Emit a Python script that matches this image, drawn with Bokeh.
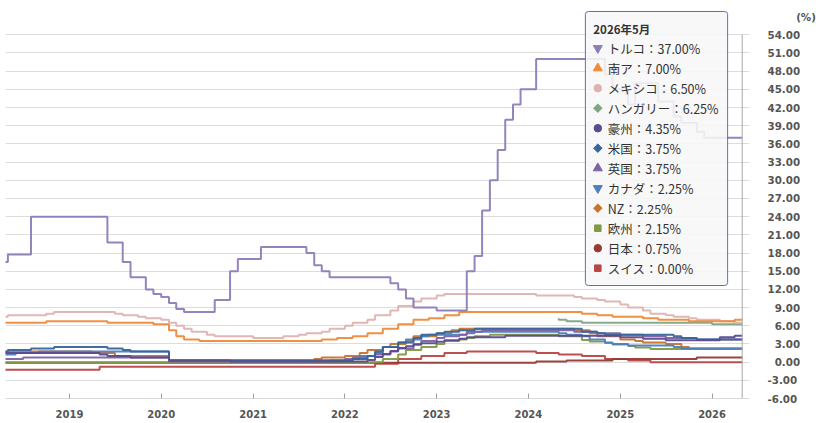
import datetime as dt
import math
from bokeh.plotting import figure
from bokeh.models import (Range1d, FixedTicker, DatetimeTickFormatter, BoxAnnotation,
                          ColumnDataSource)
from bokeh.core.properties import value
from bokeh.embed import file_html
from bokeh.resources import INLINE

# ---------------- data (policy rates, month-end, %) ----------------
first_month = "2018-04"
last_month = "2026-05"

names = ["トルコ", "南ア", "メキシコ", "ハンガリー", "豪州", "米国", "英国",
         "カナダ", "NZ", "欧州", "日本", "スイス"]
colors = ["#8e7db8", "#ee8a3a", "#ddb3b1", "#7fa583", "#5b4a8c", "#37659c",
          "#7d62a6", "#4c7fc0", "#c8742e", "#7f9a45", "#963a35", "#b84646"]
markers = ["inverted_triangle", "triangle", "circle", "diamond", "circle", "diamond",
           "triangle", "inverted_triangle", "diamond", "square", "circle", "square"]

turkey = [("2018-04", 13.5), ("2018-05", 16.5), ("2018-06", 17.75), ("2018-09", 24.0),
          ("2019-07", 19.75), ("2019-09", 16.5), ("2019-10", 14.0), ("2019-12", 12.0),
          ("2020-01", 11.25), ("2020-02", 10.75), ("2020-03", 9.75), ("2020-04", 8.75),
          ("2020-05", 8.25), ("2020-09", 10.25), ("2020-11", 15.0), ("2020-12", 17.0),
          ("2021-03", 19.0), ("2021-09", 18.0), ("2021-10", 16.0), ("2021-11", 15.0),
          ("2021-12", 14.0), ("2022-08", 13.0), ("2022-09", 12.0), ("2022-10", 10.5),
          ("2022-11", 9.0), ("2023-02", 8.5), ("2023-06", 15.0), ("2023-07", 17.5),
          ("2023-08", 25.0), ("2023-09", 30.0), ("2023-10", 35.0), ("2023-11", 40.0),
          ("2023-12", 42.5), ("2024-01", 45.0), ("2024-03", 50.0), ("2024-12", 47.5),
          ("2025-01", 45.0), ("2025-03", 42.5), ("2025-04", 46.0), ("2025-07", 43.0),
          ("2025-09", 40.5), ("2025-10", 39.5), ("2025-12", 38.0), ("2026-01", 37.0)]
south_africa = [("2018-04", 6.5), ("2018-11", 6.75), ("2019-07", 6.5), ("2020-01", 6.25),
                ("2020-03", 5.25), ("2020-04", 4.25), ("2020-05", 3.75), ("2020-07", 3.5),
                ("2021-11", 3.75), ("2022-01", 4.0), ("2022-03", 4.25), ("2022-05", 4.75),
                ("2022-07", 5.5), ("2022-09", 6.25), ("2022-11", 7.0), ("2023-01", 7.25),
                ("2023-03", 7.75), ("2023-05", 8.25), ("2024-09", 8.0), ("2024-11", 7.75),
                ("2025-01", 7.5), ("2025-05", 7.25), ("2025-07", 7.0), ("2025-11", 6.75),
                ("2026-05", 7.0)]
mexico = [("2018-04", 7.5), ("2018-06", 7.75), ("2018-11", 8.0), ("2018-12", 8.25),
          ("2019-08", 8.0), ("2019-09", 7.75), ("2019-11", 7.5), ("2019-12", 7.25),
          ("2020-02", 7.0), ("2020-03", 6.5), ("2020-04", 6.0), ("2020-05", 5.5),
          ("2020-06", 5.0), ("2020-08", 4.5), ("2020-09", 4.25), ("2021-02", 4.0),
          ("2021-06", 4.25), ("2021-08", 4.5), ("2021-09", 4.75), ("2021-11", 5.0),
          ("2021-12", 5.5), ("2022-02", 6.0), ("2022-03", 6.5), ("2022-05", 7.0),
          ("2022-06", 7.75), ("2022-08", 8.5), ("2022-09", 9.25), ("2022-11", 10.0),
          ("2022-12", 10.5), ("2023-02", 11.0), ("2023-03", 11.25), ("2024-03", 11.0),
          ("2024-08", 10.75), ("2024-09", 10.5), ("2024-11", 10.25), ("2024-12", 10.0),
          ("2025-02", 9.5), ("2025-03", 9.0), ("2025-05", 8.5), ("2025-06", 8.0),
          ("2025-08", 7.75), ("2025-09", 7.5), ("2025-11", 7.25), ("2025-12", 7.0),
          ("2026-03", 6.75), ("2026-05", 6.5)]
hungary = [("2024-05", 7.25), ("2024-06", 7.0), ("2024-07", 6.75), ("2024-09", 6.5),
           ("2026-02", 6.25)]
australia = [("2018-04", 1.5), ("2019-06", 1.25), ("2019-07", 1.0), ("2019-10", 0.75),
             ("2020-03", 0.25), ("2020-11", 0.1), ("2022-05", 0.35), ("2022-06", 0.85),
             ("2022-07", 1.35), ("2022-08", 1.85), ("2022-09", 2.35), ("2022-10", 2.6),
             ("2022-11", 2.85), ("2022-12", 3.1), ("2023-02", 3.35), ("2023-03", 3.6),
             ("2023-05", 3.85), ("2023-06", 4.1), ("2023-11", 4.35), ("2025-02", 4.1),
             ("2025-05", 3.85), ("2025-08", 3.6), ("2026-03", 4.1), ("2026-05", 4.35)]
usa = [("2018-04", 1.75), ("2018-06", 2.0), ("2018-09", 2.25), ("2018-12", 2.5),
       ("2019-07", 2.25), ("2019-09", 2.0), ("2019-10", 1.75), ("2020-03", 0.25),
       ("2022-03", 0.5), ("2022-05", 1.0), ("2022-06", 1.75), ("2022-07", 2.5),
       ("2022-09", 3.25), ("2022-11", 4.0), ("2022-12", 4.5), ("2023-02", 4.75),
       ("2023-03", 5.0), ("2023-05", 5.25), ("2023-07", 5.5), ("2024-09", 5.0),
       ("2024-11", 4.75), ("2024-12", 4.5), ("2025-09", 4.25), ("2025-10", 4.0),
       ("2025-12", 3.75)]
uk = [("2018-04", 0.5), ("2018-08", 0.75), ("2020-03", 0.1), ("2021-12", 0.25),
      ("2022-02", 0.5), ("2022-03", 0.75), ("2022-05", 1.0), ("2022-06", 1.25),
      ("2022-08", 1.75), ("2022-09", 2.25), ("2022-11", 3.0), ("2022-12", 3.5),
      ("2023-02", 4.0), ("2023-03", 4.25), ("2023-05", 4.5), ("2023-06", 5.0),
      ("2023-08", 5.25), ("2024-08", 5.0), ("2024-11", 4.75), ("2025-02", 4.5),
      ("2025-05", 4.25), ("2025-08", 4.0), ("2025-12", 3.75)]
canada = [("2018-04", 1.25), ("2018-07", 1.5), ("2018-10", 1.75), ("2020-03", 0.25),
          ("2022-03", 0.5), ("2022-04", 1.0), ("2022-06", 1.5), ("2022-07", 2.5),
          ("2022-09", 3.25), ("2022-10", 3.75), ("2022-12", 4.25), ("2023-01", 4.5),
          ("2023-06", 4.75), ("2023-07", 5.0), ("2024-06", 4.75), ("2024-07", 4.5),
          ("2024-09", 4.25), ("2024-10", 3.75), ("2024-12", 3.25), ("2025-01", 3.0),
          ("2025-03", 2.75), ("2025-09", 2.5), ("2025-10", 2.25)]
nz = [("2018-04", 1.75), ("2019-05", 1.5), ("2019-08", 1.0), ("2020-03", 0.25),
      ("2021-10", 0.5), ("2021-11", 0.75), ("2022-02", 1.0), ("2022-04", 1.5),
      ("2022-05", 2.0), ("2022-07", 2.5), ("2022-08", 3.0), ("2022-10", 3.5),
      ("2022-11", 4.25), ("2023-02", 4.75), ("2023-04", 5.25), ("2023-05", 5.5),
      ("2024-08", 5.25), ("2024-10", 4.75), ("2024-11", 4.25), ("2025-02", 3.75),
      ("2025-04", 3.5), ("2025-05", 3.25), ("2025-08", 3.0), ("2025-10", 2.5),
      ("2025-11", 2.25)]
euro = [("2018-04", 0.0), ("2022-07", 0.5), ("2022-09", 1.25), ("2022-10", 2.0),
        ("2022-12", 2.5), ("2023-02", 3.0), ("2023-03", 3.5), ("2023-05", 3.75),
        ("2023-06", 4.0), ("2023-07", 4.25), ("2023-09", 4.5), ("2024-06", 4.25),
        ("2024-09", 3.65), ("2024-10", 3.4), ("2024-12", 3.15), ("2025-01", 2.9),
        ("2025-03", 2.65), ("2025-04", 2.4), ("2025-06", 2.15)]
japan = [("2018-04", -0.1), ("2024-03", 0.1), ("2024-07", 0.25), ("2025-01", 0.5),
         ("2025-12", 0.75)]
swiss = [("2018-04", -1.25), ("2019-06", -0.75), ("2022-06", -0.25), ("2022-09", 0.5),
         ("2022-12", 1.0), ("2023-03", 1.5), ("2023-06", 1.75), ("2024-03", 1.5),
         ("2024-06", 1.25), ("2024-09", 1.0), ("2024-12", 0.5), ("2025-03", 0.25),
         ("2025-06", 0.0)]

series_changes = [turkey, south_africa, mexico, hungary, australia, usa, uk,
                  canada, nz, euro, japan, swiss]

y_ticks = list(range(-6, 55, 3))
unit_tick = 57          # position of the "(%)" unit caption on the value axis
unit_text = "(%)"
year_ticks = list(range(2019, 2027))

# ---------------- helpers ----------------
def month_list(a, b):
    ya, ma = map(int, a.split("-"))
    yb, mb = map(int, b.split("-"))
    out = []
    y, m = ya, ma
    while (y, m) <= (yb, mb):
        out.append(f"{y}-{m:02d}")
        m += 1
        if m > 12:
            y, m = y + 1, 1
    return out

months = month_list(first_month, last_month)
month_dates = [dt.datetime(int(s[:4]), int(s[5:]), 1) for s in months]

def monthly(changes):
    d = dict(changes)
    cur, out = None, []
    for mth in months:
        if mth in d:
            cur = d[mth]
        out.append(cur)
    return out

def ms(d):
    return (d - dt.datetime(1970, 1, 1)).total_seconds() * 1000.0

# ---------------- geometry (canvas starts at page 0,0) ----------------
W, H = 818, 422
F_LEFT, F_RIGHT, F_TOP, F_BOTTOM = 5, 753, 10, 398
x_start = dt.datetime(2018, 4, 21, 12)
x_end = dt.datetime(2026, 5, 30)
Y0, Y1 = -6, 58

def page_x(X):
    return ms(x_start) + (X - F_LEFT) * (ms(x_end) - ms(x_start)) / (F_RIGHT - F_LEFT)

def page_y(Y):
    return Y1 - (Y - F_TOP) * (Y1 - Y0) / (F_BOTTOM - F_TOP)

p = figure(width=W, height=H, x_axis_type="datetime", y_axis_location="right",
           output_backend="svg", toolbar_location=None,
           x_range=Range1d(x_start, x_end), y_range=Range1d(Y0, Y1))
p.min_border_left = F_LEFT
p.min_border_right = W - F_RIGHT
p.min_border_top = F_TOP
p.min_border_bottom = H - F_BOTTOM
p.outline_line_color = None
p.background_fill_color = "white"
p.border_fill_color = "white"

# value axis (right)
p.yaxis.ticker = FixedTicker(ticks=y_ticks + [unit_tick])
overrides = {t: f"{t:.2f}".rjust(5, "\u2007") for t in y_ticks}
overrides[unit_tick] = "\u2007\u2007\u2007\u2007" + unit_text
p.yaxis.major_label_overrides = overrides
p.yaxis.axis_line_color = None
p.yaxis.major_tick_line_color = None
p.yaxis.major_tick_in = 0
p.yaxis.major_tick_out = 0
p.yaxis.minor_tick_line_color = None
p.yaxis.minor_tick_in = 0
p.yaxis.minor_tick_out = 0
p.yaxis.major_label_standoff = 18
p.yaxis.major_label_text_font = "DejaVu Sans"
p.yaxis.major_label_text_font_style = "bold"
p.yaxis.major_label_text_font_size = "10.3px"
p.yaxis.major_label_text_color = "#555555"

# time axis
p.xaxis.ticker = FixedTicker(ticks=[ms(dt.datetime(y, 1, 1)) for y in year_ticks])
p.xaxis.formatter = DatetimeTickFormatter(years="%Y", months="%Y", days="%Y",
                                          hours="%Y", minutes="%Y", seconds="%Y",
                                          milliseconds="%Y", microseconds="%Y")
p.xaxis.axis_line_color = "#d8d8d8"
p.xaxis.major_tick_in = 5
p.xaxis.major_tick_out = 0
p.xaxis.major_tick_line_color = "#a0a0a0"
p.xaxis.minor_tick_line_color = None
p.xaxis.major_label_standoff = 11
p.xaxis.major_label_text_font = "DejaVu Sans"
p.xaxis.major_label_text_font_style = "bold"
p.xaxis.major_label_text_font_size = "10px"
p.xaxis.major_label_text_color = "#555555"

p.xgrid.grid_line_color = None
p.ygrid.ticker = FixedTicker(ticks=y_ticks)
p.ygrid.grid_line_color = "#dcdcdc"
p.ygrid.grid_line_width = 1

# lines
for i in reversed(range(len(names))):
    vals = monthly(series_changes[i])
    xs = [d for d, v in zip(month_dates, vals) if v is not None]
    ys = [v for v in vals if v is not None]
    p.step(xs, ys, mode="before", line_color=colors[i], line_width=2, line_alpha=0.95)
last_values = [monthly(series_changes[i])[-1] for i in range(len(names))]

# crosshair at last month
p.segment(x0=[month_dates[-1]], y0=[y_ticks[0]], x1=[month_dates[-1]], y1=[y_ticks[-1]],
          line_color="#a8a8a8", line_width=1)

# tooltip box
box = BoxAnnotation(left=page_x(588), right=page_x(731), top=page_y(11), bottom=page_y(285),
                    fill_color="#f7f7f7", fill_alpha=0.88, line_color="#4a6fae",
                    line_width=1, line_alpha=0.95, border_radius=3)
p.add_layout(box)

order = sorted(range(len(names)), key=lambda k: -last_values[k])
ly, lm = last_month.split("-")
title_txt = f"{ly}年{int(lm)}月"
p.text(x=[page_x(596)], y=[page_y(28)], text=[title_txt],
       text_font=value("Noto Sans CJK JP"), text_font_style="bold",
       text_font_size="11.5px", text_color="#333333", text_baseline="middle",
       level="overlay")

row_y = [page_y(47.7 + 20 * r) for r in range(len(order))]
mk, ang, sz = [], [], []
for k in order:
    m = markers[k]
    if m == "diamond":
        mk.append("square"); ang.append(math.pi / 4); sz.append(6)
    elif m == "square":
        mk.append("square"); ang.append(0.0); sz.append(6.5)
    elif m == "circle":
        mk.append("circle"); ang.append(0.0); sz.append(7.5)
    else:
        mk.append(m); ang.append(0.0); sz.append(9)
msrc = ColumnDataSource(dict(x=[page_x(600.5)] * len(order), y=row_y, marker=mk, angle=ang,
                             size=sz, color=[colors[k] for k in order]))
p.scatter(x="x", y="y", marker="marker", angle="angle", size="size", fill_color="color",
          line_color="color", source=msrc, level="overlay")
tsrc = ColumnDataSource(dict(x=[page_x(610.5)] * len(order), y=row_y,
                             text=[f"{names[k]}：{last_values[k]:.2f}%" for k in order]))
p.text(x="x", y="y", text="text", source=tsrc, text_font=value("Noto Sans CJK JP"),
       text_font_size="12.5px", text_color="#333333", text_baseline="middle",
       level="overlay")

open("out.html", "w").write(file_html(p, INLINE))
